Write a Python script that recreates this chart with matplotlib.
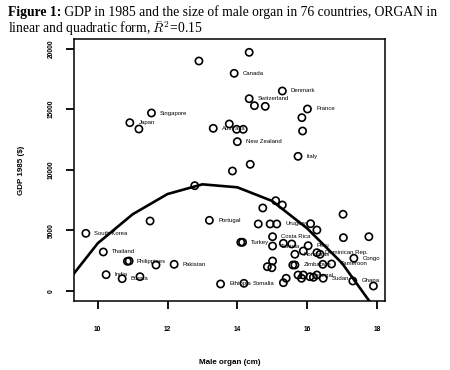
import matplotlib
matplotlib.use("Agg")
import matplotlib.pyplot as plt
import numpy as np

# ---- data ----
organ = [14.34, 12.90, 13.91, 15.29, 14.34, 14.49, 14.80, 16.01, 15.85, 15.87,
         13.77, 13.31, 13.98, 14.17, 14.00, 15.74, 14.37, 13.86, 12.78, 11.54,
         11.18, 10.92, 9.66, 11.50, 13.20, 10.16, 10.85, 10.90, 11.67, 12.19,
         10.24, 10.70, 11.21, 14.73, 15.10, 15.29, 17.03, 14.60, 14.94, 15.13,
         16.10, 16.28, 17.04, 17.77, 14.10, 14.15, 15.01, 15.01, 15.32, 15.56,
         16.03, 15.65, 15.89, 16.28, 16.37, 15.01, 14.99, 14.86, 15.59, 15.65,
         16.45, 16.70, 17.34, 15.74, 15.89, 15.84, 16.08, 16.18, 16.46, 15.40,
         15.32, 17.31, 17.90, 13.52, 14.19, 16.28]
gdp = [19690, 18975, 17960, 16500, 15865, 15290, 15235, 15015, 14300, 13200,
       13780, 13420, 13340, 13340, 12320, 11110, 10450, 9900, 8690, 14685,
       13365, 13885, 4760, 5775, 5830, 3220, 2450, 2475, 2145, 2200,
       1345, 1015, 1180, 6850, 7450, 7095, 6330, 5530, 5530, 5530,
       5550, 5030, 4400, 4480, 4020, 4020, 4480, 3710, 3935, 3880,
       3740, 3030, 3300, 3160, 3030, 2475, 1920, 2005, 2145, 2145,
       2200, 2230, 2700, 1320, 1320, 1050, 1180, 1130, 1050, 1050,
       685, 825, 410, 580, 635, 1320]
names = ["", "", "Canada", "Denmark", "Switzerland", "", "", "France", "", "",
         "", "Australia", "", "", "New Zealand", "Italy", "", "", "", "Singapore",
         "", "Japan", "South Korea", "", "Portugal", "Thailand", "Philippines", "", "", "Pakistan",
         "India", "Burma", "", "", "", "", "", "", "", "Uruguay",
         "", "", "", "", "", "Turkey", "Costa Rica", "Tunisia", "", "",
         "Peru", "Honduras", "", "Dominican Rep.", "", "", "", "", "", "Zimbabwe",
         "", "Cameroon", "Congo", "", "Senegal", "", "", "", "Sudan", "",
         "", "Ghana", "", "Ethiopia", "Somalia", ""]

# fitted quadratic curve
curve_x = [9, 10, 11, 12, 13, 14, 15, 16, 17, 18]
curve_y = [280, 3935, 6330, 8000, 8800, 8555, 7425, 5170, 2300, -1700]

x_ticks = [10, 12, 14, 16, 18]
y_ticks = [0, 5000, 10000, 15000, 20000]

title_bold = "Figure 1:"
title_rest1 = " GDP in 1985 and the size of male organ in 76 countries, ORGAN in"
title_line2 = r"linear and quadratic form, $\bar{R}^2$=0.15"

plt.rcParams['mathtext.fontset'] = 'cm'

fig = plt.figure(figsize=(4.5, 3.7), dpi=100)
ax = fig.add_axes([74/450, 1-301/370, (385-74)/450, (301-39)/370])

ax.plot(curve_x, curve_y, color='black', lw=1.9, zorder=2, clip_on=True)
ax.scatter(organ, gdp, s=27, facecolors='none', edgecolors='black',
           linewidths=1.2, zorder=3)
for xv, yv, nm in zip(organ, gdp, names):
    if nm:
        ax.annotate(nm, (xv, yv), xytext=(6.2, 0), textcoords='offset points',
                    fontsize=4.3, family='Liberation Sans', va='center', ha='left',
                    zorder=4)

ax.set_xlim(9.32, 18.232)
ax.set_ylim(-825, 20790)
ax.set_xticks(x_ticks)
ax.set_yticks(y_ticks)
ax.set_xticklabels([str(t) for t in x_ticks], fontsize=4.8, fontweight='bold',
                   family='Liberation Sans')
ax.set_yticklabels([str(t) for t in y_ticks], fontsize=4.8, fontweight='bold',
                   family='Liberation Sans', rotation=90, va='center')
ax.tick_params(axis='x', length=6, width=1.3, pad=12)
ax.tick_params(axis='y', length=6, width=1.3, pad=8)
for sp in ax.spines.values():
    sp.set_linewidth(1.1)

ax.set_xlabel("Male organ (cm)", fontsize=5.8, fontweight='bold',
              family='Liberation Sans', labelpad=19)
ax.set_ylabel("GDP 1985 ($)", fontsize=5.8, fontweight='bold',
              family='Liberation Sans', labelpad=16)

# title, fitted so the first line spans x = 8 .. 437 px
fs = 10.5
x0 = 8
target = 437 - x0
t1 = fig.text(x0/450, 1-16/370, title_bold, fontsize=fs, fontweight='bold',
              family='Liberation Serif', va='baseline', ha='left')
t2 = fig.text(0, 1-16/370, title_rest1, fontsize=fs, family='Liberation Serif',
              va='baseline', ha='left')
r = fig.canvas.get_renderer()
w = t1.get_window_extent(r).width + t2.get_window_extent(r).width
fs = fs * target / w
t1.set_fontsize(fs)
t2.set_fontsize(fs)
bb = t1.get_window_extent(r)
t2.set_x(bb.x1/450)
fig.text(x0/450, 1-33/370, title_line2, fontsize=fs, family='Liberation Serif',
         va='baseline', ha='left')

fig.savefig("out.png", dpi=100)
